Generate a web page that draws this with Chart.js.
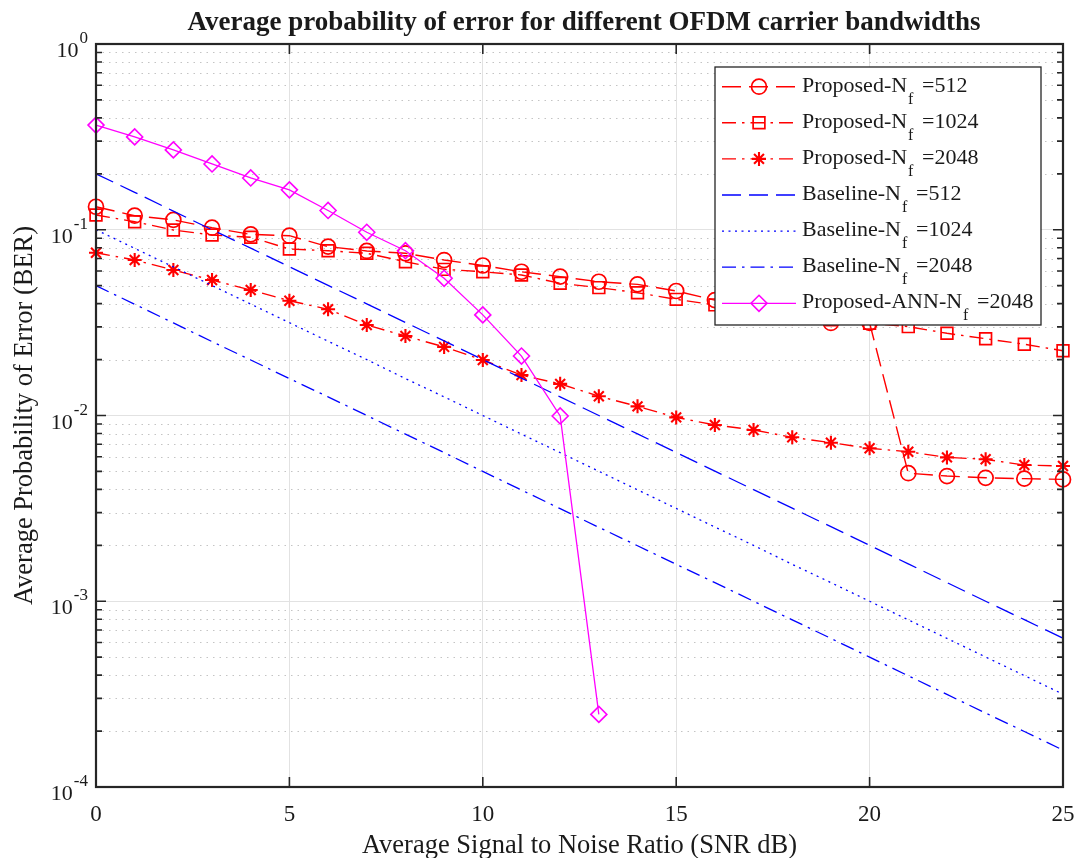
<!DOCTYPE html>
<html><head><meta charset="utf-8">
<script src="https://cdn.jsdelivr.net/npm/chart.js@4/dist/chart.umd.min.js"></script>
<style>html,body{margin:0;padding:0;background:#fff;}#wrap{width:1081px;height:858px;}</style>
</head><body><div id="wrap"><canvas id="c" width="1081" height="858"></canvas></div>
<script>
// ---- data ----
const snr = [0,1,2,3,4,5,6,7,8,9,10,11,12,13,14,15,16,17,18,19,20,21,22,23,24,25];
const annSnr = [0,1,2,3,4,5,6,7,8,9,10,11,12,13];
const prop512 = [0.133,0.119,0.113,0.1026,0.0944,0.0929,0.0811,0.0769,0.0747,0.0687,0.0642,0.0594,0.0559,0.0525,0.0508,0.0468,0.0418,0.038,0.034,0.0315,0.0315,0.00489,0.00472,0.00462,0.00457,0.00453];
const prop1024 = [0.120,0.1105,0.0997,0.0937,0.0911,0.0788,0.0771,0.0747,0.0673,0.0612,0.0594,0.0571,0.0515,0.0488,0.0458,0.0422,0.0394,0.037,0.0348,0.0328,0.0314,0.0301,0.0277,0.0259,0.0242,0.0223];
const prop2048 = [0.0752,0.0687,0.0607,0.0536,0.0474,0.0415,0.0373,0.0307,0.0268,0.0234,0.0199,0.0165,0.0148,0.0127,0.0112,0.00977,0.00889,0.00836,0.00763,0.00714,0.00666,0.00638,0.00595,0.00581,0.00541,0.00535];
const base512 = [0.2,0.159,0.126,0.1,0.0796,0.0632,0.0502,0.0399,0.0317,0.0252,0.02,0.0159,0.0126,0.01,0.00796,0.00632,0.00502,0.00399,0.00317,0.00252,0.002,0.00159,0.00126,0.001,0.000796,0.000632];
const base1024 = [0.1,0.0794,0.0631,0.0501,0.0398,0.0316,0.0251,0.02,0.0158,0.0126,0.01,0.00794,0.00631,0.00501,0.00398,0.00316,0.00251,0.002,0.00158,0.00126,0.001,0.000794,0.000631,0.000501,0.000398,0.000316];
const base2048 = [0.05,0.0397,0.0315,0.025,0.0199,0.0158,0.0126,0.01,0.00794,0.00631,0.005,0.00397,0.00315,0.0025,0.00199,0.00158,0.00126,0.001,0.000794,0.000631,0.0005,0.000397,0.000315,0.00025,0.000199,0.000158];
const ann2048 = [0.366,0.316,0.269,0.226,0.190,0.164,0.127,0.0969,0.0771,0.0548,0.0348,0.0209,0.00994,0.000246];
const seriesPrefix = ['Proposed-N','Proposed-N','Proposed-N','Baseline-N','Baseline-N','Baseline-N','Proposed-ANN-N'];
const seriesSub = ['f','f','f','f','f','f','f'];
const seriesSuffix = ['=512','=1024','=2048','=512','=1024','=2048','=2048'];
const xTicks = [0,5,10,15,20,25];
const yDecades = [-4,-3,-2,-1,0];
const titleText = 'Average probability of error for different OFDM carrier bandwidths';
const xTitle = 'Average Signal to Noise Ratio (SNR dB)';
const yTitle = 'Average Probability of Error (BER)';

const FONT = '"Liberation Serif","Times New Roman",serif';
const TXT = '#1a1a1a';
const pts = (xs, ys) => ys.map((v, i) => ({x: xs[i], y: v}));
const DASH = [19, 8], DASHDOT = [14, 6, 2.5, 6], DOT = [2, 4.5];

function mk(i, data, color, dash, style, r, lw, pw) {
  return {
    label: seriesPrefix[i] + seriesSub[i] + ' ' + seriesSuffix[i],
    data, borderColor: color, borderDash: dash, borderWidth: lw,
    pointStyle: style, pointRadius: r, pointHoverRadius: r,
    pointBorderWidth: pw,
    pointBorderColor: color, pointBackgroundColor: 'rgba(0,0,0,0)',
    fill: false, tension: 0, clip: false, order: -i
  };
}
const datasets = [
  mk(0, pts(snr, prop512), '#ff0000', DASH, 'circle', 7.5, 1.4, 1.7),
  mk(1, pts(snr, prop1024), '#ff0000', DASHDOT, 'rect', 8.3, 1.4, 1.7),
  mk(2, pts(snr, prop2048), '#ff0000', DASHDOT, 'star', 7, 1.4, 2.1),
  mk(3, pts(snr, base512), '#0000ff', DASH, false, 0, 1.3, 0),
  mk(4, pts(snr, base1024), '#0000ff', DOT, false, 0, 1.3, 0),
  mk(5, pts(snr, base2048), '#0000ff', DASHDOT, false, 0, 1.3, 0),
  mk(6, pts(annSnr, ann2048), '#ff00ff', [], 'rectRot', 8, 1.3, 1.6)
];

function marker(ctx, style, x, y, r) {
  ctx.beginPath();
  if (style === 'circle') { ctx.arc(x, y, r, 0, Math.PI * 2); }
  else if (style === 'rect') { const s = r * Math.SQRT1_2; ctx.rect(x - s, y - s, 2 * s, 2 * s); }
  else if (style === 'rectRot') { ctx.moveTo(x - r, y); ctx.lineTo(x, y - r); ctx.lineTo(x + r, y); ctx.lineTo(x, y + r); ctx.closePath(); }
  else if (style === 'star') {
    ctx.moveTo(x - r, y); ctx.lineTo(x + r, y); ctx.moveTo(x, y - r); ctx.lineTo(x, y + r);
    const d = r * Math.SQRT1_2;
    ctx.moveTo(x - d, y - d); ctx.lineTo(x + d, y + d); ctx.moveTo(x - d, y + d); ctx.lineTo(x + d, y - d);
  } else return;
  ctx.stroke();
}

const decor = {
  id: 'decor',
  beforeDatasetsDraw(chart) {
    const {ctx, chartArea: a, scales: {y}} = chart;
    ctx.save();
    ctx.strokeStyle = '#c4c4c4'; ctx.lineWidth = 1; ctx.setLineDash([1.5, 5]);
    for (let d = -4; d < 0; d++) for (let k = 2; k <= 9; k++) {
      const py = Math.round(y.getPixelForValue(k * Math.pow(10, d))) + 0.5;
      ctx.beginPath(); ctx.moveTo(a.left, py); ctx.lineTo(a.right, py); ctx.stroke();
    }
    ctx.restore();
  },
  afterDraw(chart) {
    const {ctx, chartArea: a, scales: {x, y}} = chart;
    ctx.save();
    // axes box
    ctx.strokeStyle = '#262626'; ctx.lineWidth = 2.2; ctx.setLineDash([]);
    ctx.strokeRect(a.left, a.top, a.right - a.left, a.bottom - a.top);
    ctx.lineWidth = 1.6;
    ctx.beginPath();
    xTicks.forEach(v => {
      const px = x.getPixelForValue(v);
      ctx.moveTo(px, a.bottom); ctx.lineTo(px, a.bottom - 10);
      ctx.moveTo(px, a.top); ctx.lineTo(px, a.top + 10);
    });
    for (let d = -4; d <= 0; d++) {
      const py = y.getPixelForValue(Math.pow(10, d));
      ctx.moveTo(a.left, py); ctx.lineTo(a.left + 10, py);
      ctx.moveTo(a.right, py); ctx.lineTo(a.right - 10, py);
      if (d < 0) for (let k = 2; k <= 9; k++) {
        const pm = y.getPixelForValue(k * Math.pow(10, d));
        ctx.moveTo(a.left, pm); ctx.lineTo(a.left + 6, pm);
        ctx.moveTo(a.right, pm); ctx.lineTo(a.right - 6, pm);
      }
    }
    ctx.stroke();
    // tick labels
    ctx.fillStyle = TXT;
    ctx.font = '23px ' + FONT; ctx.textAlign = 'center'; ctx.textBaseline = 'alphabetic';
    xTicks.forEach(v => ctx.fillText(String(v), x.getPixelForValue(v), a.bottom + 34));
    yDecades.forEach(d => {
      const py = y.getPixelForValue(Math.pow(10, d));
      const ex = String(d);
      ctx.font = '17px ' + FONT;
      const ew = ctx.measureText(ex).width;
      const right = a.left - 8;
      ctx.textAlign = 'left';
      ctx.fillText(ex, right - ew, py - 1);
      ctx.font = '22px ' + FONT; ctx.textAlign = 'right';
      ctx.fillText('10', right - ew - 1, py + 13);
    });
    // axis titles
    ctx.font = '26.5px ' + FONT; ctx.textAlign = 'center';
    ctx.fillText(xTitle, (a.left + a.right) / 2, 853);
    ctx.save();
    ctx.translate(32, (a.top + a.bottom) / 2); ctx.rotate(-Math.PI / 2);
    ctx.fillText(yTitle, 0, 0);
    ctx.restore();
    // title
    ctx.font = 'bold 27px ' + FONT;
    ctx.fillText(titleText, 584, 30);
    // legend
    const L = a.right - 348, T = a.top + 23, W = 326, H = 258;
    ctx.fillStyle = '#ffffff'; ctx.fillRect(L, T, W, H);
    ctx.strokeStyle = '#262626'; ctx.lineWidth = 1.3; ctx.strokeRect(L, T, W, H);
    chart.data.datasets.forEach((ds, i) => {
      const ly = T + 19.7 + 36.1 * i;
      ctx.strokeStyle = ds.borderColor; ctx.lineWidth = ds.borderWidth;
      ctx.setLineDash(ds.borderDash);
      ctx.beginPath(); ctx.moveTo(L + 7, ly); ctx.lineTo(L + 81, ly); ctx.stroke();
      ctx.setLineDash([]); ctx.lineWidth = ds.pointBorderWidth;
      marker(ctx, ds.pointStyle, L + 44, ly, ds.pointRadius);
      ctx.fillStyle = TXT; ctx.textAlign = 'left';
      ctx.font = '22px ' + FONT;
      const tx = L + 87, tb = ly + 5;
      ctx.fillText(seriesPrefix[i], tx, tb);
      const w = ctx.measureText(seriesPrefix[i]).width;
      ctx.font = '16px ' + FONT;
      ctx.fillText(seriesSub[i], tx + w + 1, tb + 12);
      ctx.font = '22px ' + FONT;
      ctx.fillText(seriesSuffix[i], tx + w + 15, tb);
    });
    ctx.restore();
  }
};

new Chart(document.getElementById('c'), {
  type: 'line',
  data: {datasets},
  options: {
    responsive: false, animation: false, events: [],
    layout: {padding: {top: 44, right: 18, left: 0, bottom: 0}},
    plugins: {legend: {display: false}, title: {display: false}, tooltip: {enabled: false}},
    scales: {
      x: {
        type: 'linear', min: 0, max: 25,
        ticks: {display: false, stepSize: 5},
        grid: {color: '#e2e2e2', lineWidth: 1, drawTicks: false},
        border: {display: false},
        afterFit: s => { s.height = 71; }
      },
      y: {
        type: 'logarithmic', min: 1e-4, max: 1,
        ticks: {display: false},
        afterBuildTicks: s => { s.ticks = yDecades.map(d => ({value: Math.pow(10, d)})); },
        grid: {color: '#e2e2e2', lineWidth: 1, drawTicks: false},
        border: {display: false},
        afterFit: s => { s.width = 96; }
      }
    }
  },
  plugins: [decor]
});
</script>
</body></html>
